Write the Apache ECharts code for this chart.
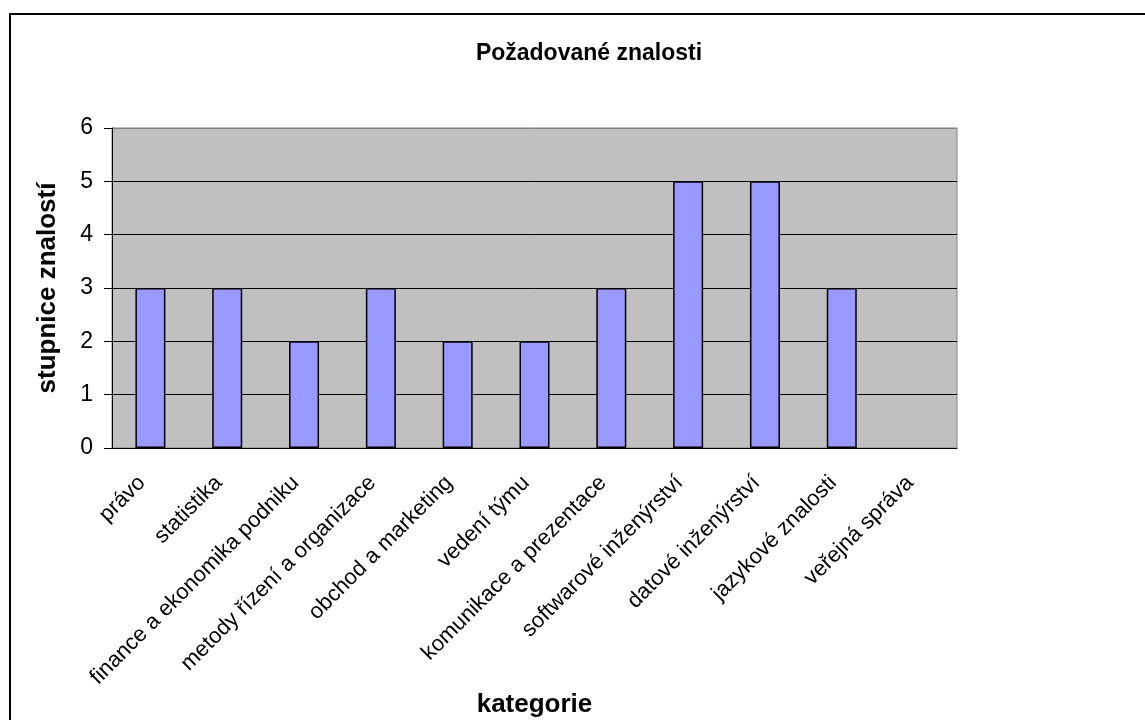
<!DOCTYPE html>
<html>
<head>
<meta charset="utf-8">
<script src="https://cdn.jsdelivr.net/npm/echarts@6/dist/echarts.min.js"></script>
<style>
  html, body { margin: 0; padding: 0; background: #fff; }
  #chart { width: 1145px; height: 720px; }
</style>
</head>
<body>
<div id="chart"></div>
<script>
const categories = [
  'právo', 'statistika', 'finance a ekonomika podniku', 'metody řízení a organizace',
  'obchod a marketing', 'vedení týmu', 'komunikace a prezentace',
  'softwarové inženýrství', 'datové inženýrství', 'jazykové znalosti', 'veřejná správa'
]
const values = [3, 3, 2, 3, 2, 2, 3, 5, 5, 3, null]
const yTicks = [0, 1, 2, 3, 4, 5, 6]

const font = 'Liberation Sans, Arial, sans-serif'
const chart = echarts.init(document.getElementById('chart'))

chart.setOption({
  animation: false,
  title: {
    text: 'Požadované znalosti',
    left: 584,
    top: 37,
    textAlign: 'center',
    textStyle: { fontFamily: font, fontSize: 23, fontWeight: 'bold', color: '#000' }
  },
  graphic: [{
    type: 'rect',
    shape: { x: 10, y: 14, width: 1300, height: 900 },
    style: { fill: 'none', stroke: '#000', lineWidth: 2 },
    silent: true
  }],
  grid: {
    left: 112, right: 188, top: 128, bottom: 272,
    show: true,
    backgroundColor: '#C0C0C0',
    borderColor: '#808080',
    borderWidth: 1
  },
  xAxis: {
    type: 'category',
    data: categories,
    name: 'kategorie',
    nameLocation: 'middle',
    nameGap: 243,
    nameTextStyle: { fontFamily: font, fontSize: 26, fontWeight: 'bold', color: '#000' },
    axisLine: { lineStyle: { color: '#000', width: 1 } },
    axisTick: { length: 7, lineStyle: { color: '#000' } },
    axisLabel: {
      interval: 0,
      rotate: 45,
      margin: 23,
      padding: [0, 12, 0, 0],
      fontFamily: font,
      fontSize: 22,
      color: '#000'
    }
  },
  yAxis: {
    type: 'value',
    min: yTicks[0],
    max: yTicks[yTicks.length - 1],
    interval: 1,
    name: 'stupnice znalostí',
    nameLocation: 'middle',
    nameGap: 51,
    nameTextStyle: { fontFamily: font, fontSize: 26, fontWeight: 'bold', color: '#000' },
    axisLine: { show: true, lineStyle: { color: '#000', width: 1 } },
    axisTick: { show: true, length: 8, lineStyle: { color: '#000' } },
    axisLabel: { margin: 19, fontFamily: font, fontSize: 23, color: '#000' },
    splitLine: {
      show: true,
      lineStyle: { color: ['#000', '#000', '#000', '#000', '#000', '#000', '#808080'], width: 1 }
    }
  },
  series: [{
    type: 'bar',
    data: values,
    barWidth: 30,
    itemStyle: { color: '#9999FF', borderColor: '#000', borderWidth: 1.5 }
  }]
})
</script>
</body>
</html>
